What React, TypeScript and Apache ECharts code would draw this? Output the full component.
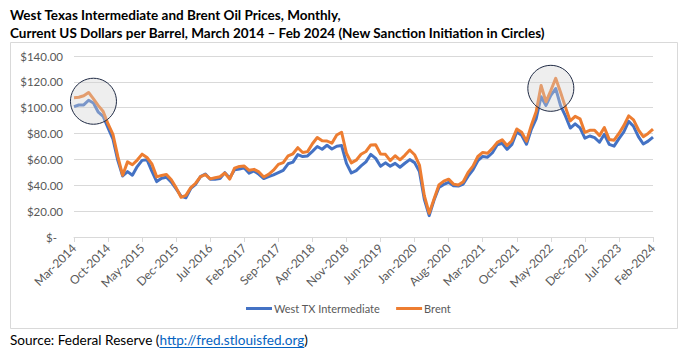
import React, { useEffect, useRef } from "react";
import * as echarts from "echarts";

const months = ["Jan", "Feb", "Mar", "Apr", "May", "Jun", "Jul", "Aug", "Sep", "Oct", "Nov", "Dec"];
const categories: string[] = [];
for (let i = 0; i < 120; i++) {
  const m = (2 + i) % 12;
  const y = 2014 + Math.floor((2 + i) / 12);
  categories.push(`${months[m]}-${y}`);
}

const wti = [
  100.8, 102.07, 102.18, 105.79, 103.59, 96.54, 93.21, 84.4, 75.79, 59.29,
  47.22, 50.58, 47.82, 54.45, 59.27, 59.82, 50.9, 42.87, 45.48, 46.22, 42.44, 37.19,
  31.68, 30.32, 37.55, 40.75, 46.71, 48.76, 44.65, 44.72, 45.18, 49.78, 45.66, 51.97,
  52.5, 53.47, 49.33, 51.06, 48.48, 45.18, 46.63, 48.04, 49.82, 51.58, 56.64, 57.88,
  63.7, 62.23, 62.73, 66.25, 69.98, 67.87, 70.98, 68.06, 70.23, 70.75, 56.96, 49.52,
  51.38, 54.95, 58.15, 63.86, 60.83, 54.66, 57.35, 54.81, 56.95, 53.96, 57.03, 59.88,
  57.52, 50.54, 29.21, 16.55, 28.56, 38.31, 40.71, 42.34, 39.63, 39.4, 40.94, 47.02,
  52.0, 59.04, 62.33, 61.72, 65.17, 71.38, 72.49, 67.73, 71.54, 81.22, 78.65, 71.71,
  83.22, 91.64, 108.5, 101.78, 109.55, 114.84, 101.62, 93.67, 84.26, 87.55, 84.37, 76.44,
  78.12, 76.83, 73.28, 79.45, 71.58, 70.25, 76.07, 81.39, 89.43, 85.64, 77.69, 71.9,
  74.15, 77.25,
];

const brent = [
  107.76, 108.09, 109.24, 111.8, 106.77, 101.61, 97.09, 87.43, 79.44, 62.34,
  47.76, 58.1, 55.89, 59.52, 64.08, 61.48, 56.56, 46.52, 47.62, 48.43, 44.27, 38.01,
  30.7, 32.18, 38.21, 41.58, 46.74, 48.25, 44.95, 45.84, 46.57, 49.52, 44.73, 53.31,
  54.58, 54.87, 51.59, 52.31, 50.33, 46.37, 48.48, 51.7, 56.15, 57.51, 62.71, 64.37,
  69.08, 65.32, 66.02, 72.11, 76.98, 74.41, 74.25, 72.53, 78.89, 81.03, 64.75, 57.36,
  59.41, 63.96, 66.14, 71.23, 71.32, 64.22, 63.92, 59.04, 62.83, 59.71, 63.21, 67.31,
  63.65, 55.66, 32.01, 18.38, 29.38, 40.27, 43.24, 44.74, 40.91, 40.19, 42.69, 49.99,
  54.77, 62.28, 65.41, 64.81, 68.53, 73.16, 75.17, 70.75, 74.49, 83.54, 81.05, 74.17,
  86.51, 97.13, 117.25, 104.58, 113.34, 122.71, 111.93, 100.45, 89.76, 93.33, 91.42, 80.92,
  82.5, 82.59, 78.43, 84.64, 75.47, 74.84, 80.11, 86.15, 93.72, 90.6, 82.94, 77.63,
  80.12, 83.48,
];

// Sanction-initiation annotations: [category index (fractional), value]
const sanctionCircles: [number, number][] = [
  [3.6, 105],
  [97.9, 115],
];

const titleLines = [
  "West Texas Intermediate and Brent Oil Prices, Monthly,",
  "Current US Dollars per Barrel, March 2014 \u2013 Feb 2024 (New Sanction Initiation in Circles)",
];
const seriesNames = ["West TX Intermediate", "Brent"];
const sourcePrefix = "Source: Federal Reserve (";
const sourceLink = "http://fred.stlouisfed.org";
const sourceSuffix = ")";

const FONT = "Lato, 'Open Sans', sans-serif";

function measure(text: string, font: string): number {
  const c = document.createElement("canvas");
  const ctx = c.getContext("2d");
  if (!ctx) return text.length * 6;
  ctx.font = font;
  return ctx.measureText(text).width;
}

export default function App() {
  const ref = useRef<HTMLDivElement>(null);

  useEffect(() => {
    if (!ref.current) return;
    const chart = echarts.init(ref.current, undefined, { renderer: "svg" });

    const srcFont = `13.6px Lato`;
    const prefixW = measure(sourcePrefix, srcFont);
    const linkW = measure(sourceLink, srcFont);
    const srcX = 10;
    const srcY = 340;

    chart.setOption({
      animation: false,
      backgroundColor: "#ffffff",
      grid: { left: 74, right: 45, top: 56, bottom: 121, containLabel: false },
      legend: {
        left: 241,
        top: 298,
        itemWidth: 26,
        itemHeight: 3,
        itemGap: 16,
        icon: "rect",
        textStyle: { fontFamily: FONT, fontSize: 11, color: "#595959", padding: [0, 0, 0, -3] },
        data: seriesNames,
      },
      xAxis: {
        type: "category",
        data: categories,
        boundaryGap: false,
        axisLine: { lineStyle: { color: "#d9d9d9" } },
        axisTick: { show: true, interval: 6, length: 5, lineStyle: { color: "#d9d9d9" } },
        axisLabel: {
          interval: 6,
          rotate: 45,
          margin: 9,
          fontFamily: FONT,
          fontSize: 12,
          color: "#595959",
        },
        splitLine: { show: false },
      },
      yAxis: {
        type: "value",
        min: 0,
        max: 140,
        interval: 20,
        axisLine: { show: false },
        axisTick: { show: false },
        splitLine: { lineStyle: { color: "#d9d9d9", width: 1 } },
        axisLabel: {
          margin: 11,
          fontFamily: FONT,
          fontSize: 11.5,
          color: "#595959",
          formatter: (v: number) => (v === 0 ? "{z|$-}" : "$" + v.toFixed(2)),
          rich: { z: { fontFamily: FONT, fontSize: 11.5, color: "#595959", padding: [0, 6, 0, 0] } },
        },
      },
      series: [
        {
          name: seriesNames[0],
          type: "line",
          data: wti,
          showSymbol: false,
          symbol: "none",
          lineStyle: { color: "#4472C4", width: 3, join: "round" },
          itemStyle: { color: "#4472C4" },
          z: 2,
        },
        {
          name: seriesNames[1],
          type: "line",
          data: brent,
          showSymbol: false,
          symbol: "none",
          lineStyle: { color: "#ED7D31", width: 3, join: "round" },
          itemStyle: { color: "#ED7D31" },
          z: 3,
        },
      ],
    });

    const circles = sanctionCircles.map(([idx, val]) => {
      const p = chart.convertToPixel({ xAxisIndex: 0, yAxisIndex: 0 }, [idx, val]) as number[];
      return {
        type: "circle",
        shape: { cx: p[0], cy: p[1], r: 23 },
        style: { fill: "rgba(210,210,210,0.38)", stroke: "#1F2A44", lineWidth: 1 },
        z: 10,
      };
    });

    chart.setOption({
      graphic: [
        {
          type: "rect",
          shape: { x: 10.5, y: 42.5, width: 667, height: 286 },
          style: { fill: "none", stroke: "#d9d9d9", lineWidth: 1 },
          z: 0,
        },
        {
          type: "text",
          x: 10,
          y: 8,
          style: {
            text: titleLines[0],
            font: `bold 13.5px ${FONT}`,
            fill: "#000000",
          },
        },
        {
          type: "text",
          x: 10,
          y: 26,
          style: {
            text: titleLines[1],
            font: `bold 13.5px ${FONT}`,
            fill: "#000000",
          },
        },
        {
          type: "text",
          x: srcX,
          y: srcY,
          style: { text: sourcePrefix, font: srcFont, fill: "#000000", verticalAlign: "middle" },
        },
        {
          type: "text",
          x: srcX + prefixW,
          y: srcY,
          style: { text: sourceLink, font: srcFont, fill: "#0563C1", verticalAlign: "middle" },
        },
        {
          type: "line",
          shape: { x1: srcX + prefixW, y1: srcY + 7.5, x2: srcX + prefixW + linkW, y2: srcY + 7.5 },
          style: { stroke: "#0563C1", lineWidth: 1 },
        },
        {
          type: "text",
          x: srcX + prefixW + linkW,
          y: srcY,
          style: { text: sourceSuffix, font: srcFont, fill: "#000000", verticalAlign: "middle" },
        },
        ...circles,
      ],
    });

    return () => chart.dispose();
  }, []);

  return (
    <div
      ref={ref}
      style={{ position: "absolute", left: 0, top: 0, width: 698, height: 358 }}
    />
  );
}
